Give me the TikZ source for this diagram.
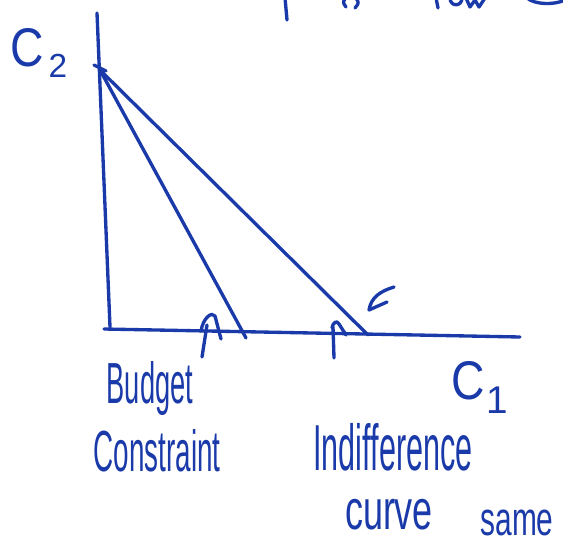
\documentclass[tikz,border=0pt]{standalone}
\usepackage{fontspec}
\setmainfont{Liberation Sans}
\usetikzlibrary{positioning}
\definecolor{ink}{HTML}{1A3AAA}
\tikzset{
  pen/.style={ink,line width=1.9pt,line cap=round,line join=round},
  hand/.style={ink,inner sep=0pt,font=\fontsize{#1}{#1}\selectfont},
}
\newcommand{\narrow}[2]{\scalebox{#1}[1]{#2}}

\begin{document}
\begin{tikzpicture}[x=0.02cm,y=-0.02cm]
  \useasboundingbox (0,0) rectangle (563,543);
  \clip (0,0) rectangle (563,543);
  % axes
  \coordinate (ytop) at (97,13);
  \coordinate (ybot) at (110,327);
  \coordinate (xstart) at (104,329);
  \coordinate (xend) at (520,337);
  \draw[pen] (ytop) -- (ybot);
  \draw[pen] (xstart) -- (xend);
  % budget constraint and indifference curve
  \coordinate (apex) at (100,70);
  \coordinate (bc) at (246,338);
  \coordinate (ic) at (368,335);
  \draw[pen] (94,65) -- (106,71);
  \draw[pen] (apex) -- (bc);
  \draw[pen] (apex) -- (ic);
  % little arrows
  \draw[pen] (202,357) -- (207,325);
  \draw[pen] (201,331) .. controls (203,318) and (212,311) .. (215,316) -- (221,339);
  \draw[pen] (334,358) -- (333,327);
  \draw[pen] (332,328) .. controls (333,322) and (337,320) .. (339,324) -- (346,335);
  \draw[pen] (394,287) .. controls (381,291) and (371,297) .. (369,310) -- (387,302);
  % cut-off writing at the top
  \draw[pen] (285,-2) -- (287,20);
  \draw[pen] (345,-2) .. controls (343,3) .. (346,7);
  \draw[pen] (356,-2) .. controls (359,3) .. (355,8);
  \draw[pen] (436,-2) -- (438,8);
  \draw[pen] (450,-2) .. controls (450,7) and (462,7) .. (462,-2);
  \draw[pen] (466,-2) -- (470,7) -- (475,0) -- (479,7) -- (485,-2);
  \draw[pen] (527,-2) .. controls (535,5) and (555,5) .. (565,0);
  % labels
  \node[hand=31] (c2) at (27,48) {\narrow{0.85}{C}};
  \node[hand=19] (c2sub) at (58,66) {2};
  \node[hand=31] (c1) at (468,381) {\narrow{0.85}{C}};
  \node[hand=22] (c1sub) at (497,400) {1};
  \node[hand=33,anchor=base] (budget) at (150,403) {\narrow{0.47}{Budget}};
  \node[hand=33,anchor=base] (constraint) at (157,471) {\narrow{0.48}{Constraint}};
  \node[hand=37,anchor=base] (indiff) at (393,470) {\narrow{0.47}{Indifference}};
  \node[hand=32,anchor=base] (curve) at (389,529) {\narrow{0.64}{curve}};
  \node[hand=27,anchor=base] (same) at (517,535) {\narrow{0.63}{same}};
\end{tikzpicture}
\end{document}
